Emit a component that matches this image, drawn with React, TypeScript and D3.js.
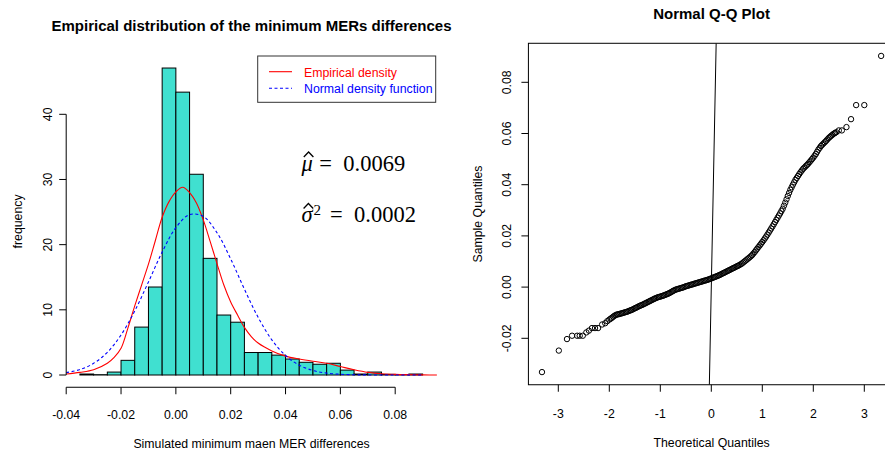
import React from "react";
import * as d3 from "d3";

// ---------- Histogram data ----------
const histBreaks = [-0.035, -0.03, -0.025, -0.02, -0.015, -0.01, -0.005, 0, 0.005, 0.01, 0.015, 0.02, 0.025, 0.03, 0.035, 0.04, 0.045, 0.05, 0.055, 0.06, 0.065, 0.07, 0.075, 0.08, 0.085, 0.09];
const histDensity = [0.15, 0.05, 0.45, 2.25, 7.35, 13.5, 47.1, 43.4, 30.8, 17.9, 9.2, 8.1, 3.45, 3.45, 3.05, 2.45, 1.95, 1.65, 1.8, 0.75, 0.15, 0.45, 0.1, 0.05, 0.15];

const empX = [-0.04, -0.035, -0.03, -0.025, -0.0225, -0.02, -0.0175, -0.015, -0.0125, -0.01, -0.0075, -0.005, -0.0025, 0, 0.0025, 0.005, 0.0075, 0.01, 0.0125, 0.015, 0.0175, 0.02, 0.0225, 0.025, 0.0275, 0.03, 0.035, 0.04, 0.045, 0.05, 0.055, 0.06, 0.065, 0.07, 0.075, 0.08, 0.085, 0.09, 0.096];
const empY = [0.15, 0.4, 0.8, 1.8, 2.7, 4.1, 7.2, 10.6, 13.8, 17.0, 20.6, 24.2, 26.6, 28.1, 28.8, 28.0, 26.4, 23.8, 20.5, 17.1, 13.8, 11.2, 9.2, 7.3, 5.9, 4.9, 3.7, 2.9, 2.45, 2.1, 1.8, 1.3, 0.8, 0.4, 0.2, 0.1, 0.05, 0.02, 0.0];

const normX = [-0.04, -0.035, -0.03, -0.025, -0.02, -0.015, -0.01, -0.005, 0, 0.005, 0.01, 0.015, 0.02, 0.025, 0.03, 0.035, 0.04, 0.045, 0.05, 0.055, 0.06, 0.065, 0.07, 0.08, 0.09];
const normY = [0.36, 0.84, 1.79, 3.48, 6.14, 9.83, 14.28, 18.86, 22.61, 24.61, 24.32, 21.83, 17.8, 13.17, 8.85, 5.4, 2.99, 1.51, 0.69, 0.29, 0.11, 0.04, 0.01, 0.0, 0.0];

const histXTicks = [-0.04, -0.02, 0, 0.02, 0.04, 0.06, 0.08];
const histXTickLabels = ["-0.04", "-0.02", "0.00", "0.02", "0.04", "0.06", "0.08"];
const histYTicks = [0, 10, 20, 30, 40];
const histYTickLabels = ["0", "10", "20", "30", "40"];

const legendLabels = ["Empirical density", "Normal density function"];
const muText = "0.0069";
const sigmaText = "0.0002";

// ---------- Q-Q data ----------
const qqTheoretical = [
  -3.32, -2.99, -2.83, -2.73, -2.63, -2.58, -2.52, -2.45, -2.4, -2.34, -2.28, -2.22, -2.14, -2.08, -2.04,
  -2.0, -1.975, -1.95, -1.925, -1.9, -1.875, -1.85, -1.825, -1.8, -1.775, -1.75, -1.725, -1.7, -1.675, -1.65, -1.625,
  -1.6, -1.575, -1.55, -1.525, -1.5, -1.475, -1.45, -1.425, -1.4, -1.375, -1.35, -1.325, -1.3, -1.275, -1.25, -1.225,
  -1.2, -1.175, -1.15, -1.125, -1.1, -1.075, -1.05, -1.025, -1.0, -0.975, -0.95, -0.925, -0.9, -0.875, -0.85, -0.825,
  -0.8, -0.775, -0.75, -0.725, -0.7, -0.675, -0.65, -0.625, -0.6, -0.575, -0.55, -0.525, -0.5, -0.475, -0.45, -0.425,
  -0.4, -0.375, -0.35, -0.325, -0.3, -0.275, -0.25, -0.225, -0.2, -0.175, -0.15, -0.125, -0.1, -0.075, -0.05, -0.025,
  0.0, 0.025, 0.05, 0.075, 0.1, 0.125, 0.15, 0.175, 0.2, 0.225, 0.25, 0.275, 0.3, 0.325, 0.35, 0.375,
  0.4, 0.425, 0.45, 0.475, 0.5, 0.525, 0.55, 0.575, 0.6, 0.625, 0.65, 0.675, 0.7, 0.725, 0.75, 0.775,
  0.8, 0.825, 0.85, 0.875, 0.9, 0.925, 0.95, 0.975, 1.0, 1.025, 1.05, 1.075, 1.1, 1.125, 1.15, 1.175,
  1.2, 1.225, 1.25, 1.275, 1.3, 1.325, 1.35, 1.375, 1.4, 1.425, 1.45, 1.475, 1.5, 1.525, 1.55, 1.575,
  1.6, 1.625, 1.65, 1.675, 1.7, 1.725, 1.75, 1.775, 1.8, 1.825, 1.85, 1.875, 1.9, 1.925, 1.95, 1.975,
  2.0, 2.025, 2.05, 2.075, 2.1, 2.125, 2.15, 2.175, 2.2, 2.225, 2.25, 2.275, 2.3, 2.325, 2.35, 2.375,
  2.4, 2.425, 2.45, 2.5, 2.56, 2.65, 2.74, 2.84, 3.0, 3.33,
];
const qqSample = [
  -0.0332, -0.0248, -0.0203, -0.019, -0.019, -0.019, -0.019, -0.0177, -0.017, -0.016, -0.016, -0.016, -0.0146, -0.0141, -0.0133,
  -0.0127, -0.01235, -0.012, -0.0116, -0.0112, -0.01095, -0.0107, -0.0106, -0.0105, -0.01035, -0.0102, -0.01005, -0.0099, -0.00975, -0.0096, -0.0094,
  -0.0092, -0.009, -0.0088, -0.00855, -0.0083, -0.00805, -0.0078, -0.00755, -0.0073, -0.0071, -0.0069, -0.00665, -0.0064, -0.00615, -0.0059, -0.00565,
  -0.0054, -0.00515, -0.0049, -0.00465, -0.0044, -0.0042, -0.004, -0.00385, -0.0037, -0.00355, -0.0034, -0.0032, -0.003, -0.0028, -0.0026, -0.00235,
  -0.0021, -0.0018, -0.0015, -0.00125, -0.001, -0.00085, -0.0007, -0.00055, -0.0004, -0.00025, -0.0001, 0.0001, 0.0003, 0.00045, 0.0006, 0.00075,
  0.0009, 0.00105, 0.0012, 0.00135, 0.0015, 0.00165, 0.0018, 0.00195, 0.0021, 0.00225, 0.0024, 0.00255, 0.0027, 0.00285, 0.003, 0.0032,
  0.0034, 0.0036, 0.0038, 0.004, 0.0042, 0.0044, 0.0046, 0.00485, 0.0051, 0.00535, 0.0056, 0.00585, 0.0061, 0.00635, 0.0066, 0.00685,
  0.0071, 0.00735, 0.0076, 0.00785, 0.0081, 0.00835, 0.0086, 0.0089, 0.0092, 0.0096, 0.01, 0.0104, 0.0108, 0.0112, 0.0116, 0.01205,
  0.0125, 0.0131, 0.0137, 0.01435, 0.015, 0.01565, 0.0163, 0.01695, 0.0176, 0.0183, 0.019, 0.01975, 0.0205, 0.0213, 0.0221, 0.0229,
  0.0237, 0.02455, 0.0254, 0.02625, 0.0271, 0.02795, 0.0288, 0.0297, 0.0306, 0.0318, 0.033, 0.0343, 0.0356, 0.0368, 0.038, 0.039,
  0.04, 0.04095, 0.0419, 0.04265, 0.0434, 0.04415, 0.0449, 0.04555, 0.0462, 0.0467, 0.0472, 0.0477, 0.0482, 0.0488, 0.0494, 0.05,
  0.0506, 0.0513, 0.052, 0.05285, 0.0537, 0.0544, 0.0551, 0.0556, 0.0561, 0.0566, 0.0571, 0.05765, 0.0582, 0.05865, 0.0591, 0.0595,
  0.0599, 0.0602, 0.0605, 0.0612, 0.0612, 0.0625, 0.0656, 0.0711, 0.0711, 0.0903,
];
const qqLine = { intercept: 0, slope: 1 };

const qqXTicks = [-3, -2, -1, 0, 1, 2, 3];
const qqXTickLabels = ["-3", "-2", "-1", "0", "1", "2", "3"];
const qqYTicks = [-0.02, 0, 0.02, 0.04, 0.06, 0.08];
const qqYTickLabels = ["-0.02", "0.00", "0.02", "0.04", "0.06", "0.08"];

const FONT = "'Liberation Sans', Arial, Helvetica, sans-serif";
const SERIF = "'Liberation Serif', 'DejaVu Serif', serif";
const FS = 12.3;

// circumflex accent drawn as a small chevron (typographic decoration)
function Hat({ cx, baseY }: { cx: number; baseY: number }) {
  return (
    <path
      d={`M${cx - 4.8},${baseY} L${cx},${baseY - 5} L${cx + 4.8},${baseY}`}
      fill="none"
      stroke="#000"
      strokeWidth={1.3}
      strokeLinejoin="miter"
    />
  );
}

export default function App() {
  // histogram scales
  const hx = d3.scaleLinear().domain([-0.04, 0.08]).range([66.2, 395.2]);
  const hy = d3.scaleLinear().domain([0, 40]).range([375, 114.3]);
  const hLeft = hx(-0.04);
  const hRight = hx(0.0952);
  const hBottom = hy(-1.88);
  const hTop = hy(49.0);

  const empLine = d3
    .line<number>()
    .x((_, i) => hx(empX[i]))
    .y((d) => hy(d))
    .curve(d3.curveCatmullRom);
  const normLine = d3
    .line<number>()
    .x((_, i) => hx(normX[i]))
    .y((d) => hy(d))
    .curve(d3.curveCatmullRom);

  // qq scales
  const qx = d3.scaleLinear().domain([-3, 3]).range([558.3, 864.3]);
  const qy = d3.scaleLinear().domain([-0.02, 0.08]).range([338.3, 82.3]);
  const [tMin, tMax] = d3.extent(qqTheoretical) as [number, number];
  const [sMin, sMax] = d3.extent(qqSample) as [number, number];
  const tPad = (tMax - tMin) * 0.04;
  const sPad = (sMax - sMin) * 0.04;
  const boxL = qx(tMin - tPad);
  const boxR = qx(tMax + tPad);
  const boxB = qy(sMin - sPad);
  const boxT = qy(sMax + sPad);
  const lineV0 = sMin - sPad;
  const lineV1 = sMax + sPad;

  return (
    <svg
      width={885}
      height={455}
      style={{ position: "absolute", left: 0, top: 0, background: "#fff" }}
      fontFamily={FONT}
    >
      <rect x={0} y={0} width={885} height={455} fill="#fff" />
      <defs>
        <clipPath id="hclip">
          <rect x={hLeft} y={hTop} width={hRight - hLeft} height={hBottom - hTop} />
        </clipPath>
        <clipPath id="qclip">
          <rect x={boxL} y={boxT} width={boxR - boxL} height={boxB - boxT} />
        </clipPath>
      </defs>

      {/* ---------------- Histogram panel ---------------- */}
      <text x={(hLeft + hRight) / 2} y={31} textAnchor="middle" fontWeight="bold" fontSize={15}>
        Empirical distribution of the minimum MERs differences
      </text>

      {histDensity.map((d, i) => (
        <rect
          key={i}
          x={hx(histBreaks[i])}
          y={hy(d)}
          width={hx(histBreaks[i + 1]) - hx(histBreaks[i])}
          height={hy(0) - hy(d)}
          fill="#40E0D0"
          stroke="#000"
          strokeWidth={1}
        />
      ))}

      <g clipPath="url(#hclip)">
        <path d={empLine(empY) || ""} fill="none" stroke="#ff0000" strokeWidth={1.1} />
        <path d={normLine(normY) || ""} fill="none" stroke="#0000ff" strokeWidth={1.1} strokeDasharray="3,2.5" />
      </g>

      {/* x axis */}
      <line x1={hx(histXTicks[0])} x2={hx(histXTicks[histXTicks.length - 1])} y1={hBottom} y2={hBottom} stroke="#000" />
      {histXTicks.map((t, i) => (
        <g key={i}>
          <line x1={hx(t)} x2={hx(t)} y1={hBottom} y2={hBottom + 7} stroke="#000" />
          <text x={hx(t)} y={418.7} textAnchor="middle" fontSize={FS}>
            {histXTickLabels[i]}
          </text>
        </g>
      ))}
      {/* y axis */}
      <line x1={hLeft} x2={hLeft} y1={hy(histYTicks[0])} y2={hy(histYTicks[histYTicks.length - 1])} stroke="#000" />
      {histYTicks.map((t, i) => (
        <g key={i}>
          <line x1={hLeft - 7} x2={hLeft} y1={hy(t)} y2={hy(t)} stroke="#000" />
          <text transform={`translate(51.5,${hy(t)}) rotate(-90)`} textAnchor="middle" fontSize={FS}>
            {histYTickLabels[i]}
          </text>
        </g>
      ))}
      <text x={(hLeft + hRight) / 2} y={448.4} textAnchor="middle" fontSize={FS}>
        Simulated minimum maen MER differences
      </text>
      <text transform={`translate(21.7,${(hTop + hBottom) / 2}) rotate(-90)`} textAnchor="middle" fontSize={FS}>
        frequency
      </text>

      {/* legend */}
      <rect x={257.7} y={56} width={178} height={46.3} fill="#fff" stroke="#333" strokeWidth={1} />
      <line x1={269} x2={292} y1={71.7} y2={71.7} stroke="#ff0000" strokeWidth={1.1} />
      <line x1={269} x2={292} y1={88.3} y2={88.3} stroke="#0000ff" strokeWidth={1.1} strokeDasharray="3,2.5" />
      <text x={304} y={77.1} fontSize={FS} fill="#ff0000">{legendLabels[0]}</text>
      <text x={304} y={92.6} fontSize={FS} fill="#0000ff">{legendLabels[1]}</text>

      {/* annotations */}
      <text fontFamily={SERIF} fontSize={22.5}>
        <tspan x={301.5} y={170.7} fontStyle="italic">μ</tspan>
        <tspan x={319.3} y={170.7}>=</tspan>
        <tspan x={343.3} y={170.7}>{muText}</tspan>
      </text>
      <Hat cx={308.6} baseY={157} />
      <text fontFamily={SERIF} fontSize={22.5}>
        <tspan x={301.5} y={221.7} fontStyle="italic">σ</tspan>
        <tspan x={313.5} y={214.5} fontSize={15}>2</tspan>
        <tspan x={330} y={221.7}>=</tspan>
        <tspan x={354} y={221.7}>{sigmaText}</tspan>
      </text>
      <Hat cx={308.4} baseY={208.5} />

      {/* ---------------- Q-Q panel ---------------- */}
      <text x={(boxL + boxR) / 2} y={19} textAnchor="middle" fontWeight="bold" fontSize={15}>
        Normal Q-Q Plot
      </text>
      <rect x={boxL} y={boxT} width={boxR - boxL} height={boxB - boxT} fill="none" stroke="#000" strokeWidth={1} />
      <g clipPath="url(#qclip)">
        <line
          x1={qx((lineV0 - qqLine.intercept) / qqLine.slope)}
          y1={qy(lineV0)}
          x2={qx((lineV1 - qqLine.intercept) / qqLine.slope)}
          y2={qy(lineV1)}
          stroke="#000"
          strokeWidth={1}
        />
        {qqTheoretical.map((t, i) => (
          <circle key={i} cx={qx(t)} cy={qy(qqSample[i])} r={2.7} fill="none" stroke="#000" strokeWidth={1} />
        ))}
      </g>
      {qqXTicks.map((t, i) => (
        <g key={i}>
          <line x1={qx(t)} x2={qx(t)} y1={boxB} y2={boxB + 7} stroke="#000" />
          <text x={qx(t)} y={417.7} textAnchor="middle" fontSize={FS}>
            {qqXTickLabels[i]}
          </text>
        </g>
      ))}
      {qqYTicks.map((t, i) => (
        <g key={i}>
          <line x1={boxL - 7} x2={boxL} y1={qy(t)} y2={qy(t)} stroke="#000" />
          <text transform={`translate(511.1,${qy(t)}) rotate(-90)`} textAnchor="middle" fontSize={FS}>
            {qqYTickLabels[i]}
          </text>
        </g>
      ))}
      <text x={(boxL + boxR) / 2} y={447} textAnchor="middle" fontSize={FS}>
        Theoretical Quantiles
      </text>
      <text transform={`translate(482.3,${(boxT + boxB) / 2}) rotate(-90)`} textAnchor="middle" fontSize={FS}>
        Sample Quantiles
      </text>
    </svg>
  );
}
